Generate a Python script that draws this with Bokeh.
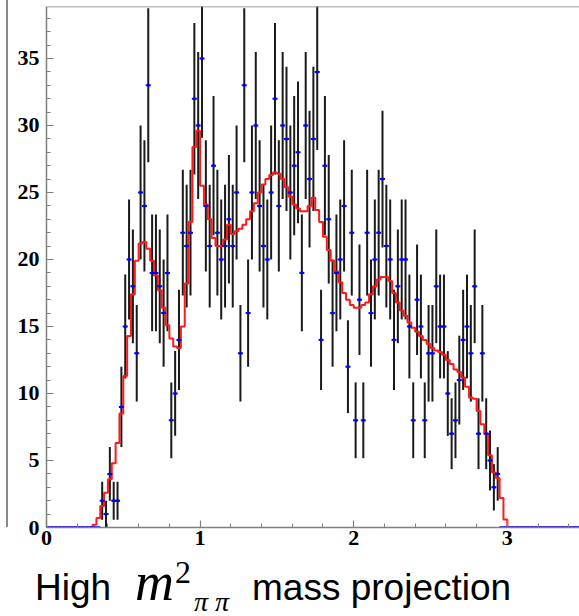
import math
from bokeh.plotting import figure
from bokeh.models import Range1d, SingleIntervalTicker, Span, Div
from bokeh.layouts import row, column
from bokeh.embed import file_html
from bokeh.resources import INLINE

# ---- data ----
bin_width = 0.025
x_first_edge = 0.0

# event counts per bin (bins of 0.025 starting at 0)
counts_low_empty = [0, 0, 0, 0, 0, 0, 0, 0, 0, 0, 0, 0, 0, 0]
counts_main = [2, 1, 4, 2, 2, 9, 15, 20, 18, 13, 25, 24, 33, 19, 19, 18, 16, 19, 8, 10,
               14, 22, 21, 22, 32, 30,
               35, 24, 21, 27, 22, 20, 21, 23, 21, 25, 13, 33, 16, 25, 30, 24, 21, 20, 25, 32,
               24, 30, 29, 25, 27, 28, 19, 30, 26, 29, 34, 14, 27, 23, 16, 19, 20, 24, 12, 22,
               8, 17, 8, 22, 16, 20, 22, 26, 21, 20, 14, 18, 20, 20, 15, 8, 17, 15, 8, 13,
               13, 18, 15, 15, 10, 7, 8, 11, 14, 15, 13, 18, 7, 13, 7, 5, 3, 4]
counts_high_empty = [0, 0, 0, 0, 0, 0, 0, 0, 0, 0, 0, 0, 0, 0, 0, 0, 0, 0, 0, 0, 0]

# fit projection (red histogram), same binning
fit_low_empty = [0, 0, 0, 0, 0, 0, 0, 0, 0, 0, 0, 0]
fit_main = [0.2, 0.7, 1.6, 2.6, 3.6, 4.8, 6.3, 8.5, 11.3, 14.3, 17.4, 19.9, 21.2, 21.3,
            20.8, 19.9, 18.8, 17.7, 16.4, 15.1, 14.1, 13.5, 13.4, 15.0, 18.2, 22.8, 28.4, 29.6,
            25.5, 24.1, 23.0, 21.6, 21.0, 21.0, 21.5, 22.6, 21.9, 22.1, 22.3, 22.6, 23.0, 23.6,
            24.2, 25.0, 25.6, 26.0, 26.3, 26.5, 26.4, 26.0, 25.4, 24.7, 24.1, 23.8, 23.6, 23.6,
            24.0, 24.6, 23.7, 22.8, 21.7, 20.7, 19.9, 19.1, 18.3, 17.5, 17.0, 16.6,
            16.4, 16.4, 16.6, 16.8, 17.4, 18.0, 18.5, 18.7, 18.7, 18.4, 17.5, 16.8, 16.2, 15.8,
            15.3, 14.9, 14.6, 14.3, 14.0, 13.7, 13.4, 13.2, 13.1, 12.9, 12.5, 12.2, 11.8, 11.6,
            11.2, 10.5, 9.7, 9.6, 8.7, 7.7, 7.0, 5.4, 4.1, 3.7, 2.2, 0.6]
fit_high_empty = [0, 0, 0, 0, 0, 0, 0, 0, 0, 0, 0, 0, 0, 0, 0, 0, 0, 0, 0]

x_ticks_interval = 1
y_ticks_interval = 5
x_axis_range = (0, 3.47)
y_axis_range = (0, 38.88)

caption_parts = ["High", "m", "2", "π π", "mass projection"]

counts = counts_low_empty + counts_main + counts_high_empty
fit = fit_low_empty + fit_main + fit_high_empty

centers = [x_first_edge + (i + 0.5) * bin_width for i in range(len(counts))]
edges = [x_first_edge + i * bin_width for i in range(len(fit) + 1)]

err_x, err_lo, err_hi = [], [], []
for xc, c in zip(centers, counts):
    if c > 0:
        err_x.append(xc)
        err_lo.append(c - math.sqrt(c))
        err_hi.append(c + math.sqrt(c))

# ---- figure ----
p = figure(width=571, height=557,
           x_range=Range1d(*x_axis_range), y_range=Range1d(*y_axis_range),
           output_backend="svg", toolbar_location=None,
           min_border_left=38, min_border_right=0, min_border_top=6, min_border_bottom=30)
p.outline_line_color = None
p.grid.visible = False
p.background_fill_color = "white"
p.border_fill_color = "white"

p.xaxis.ticker = SingleIntervalTicker(interval=x_ticks_interval, num_minor_ticks=5)
p.yaxis.ticker = SingleIntervalTicker(interval=y_ticks_interval, num_minor_ticks=5)
for ax in (p.xaxis[0], p.yaxis[0]):
    ax.major_tick_in = 7
    ax.major_tick_out = 0
    ax.minor_tick_in = 4
    ax.minor_tick_out = 0
    ax.axis_line_color = "#7f7f7f"
    ax.axis_line_width = 1.5
    ax.major_tick_line_color = "#7f7f7f"
    ax.minor_tick_line_color = "#7f7f7f"
    ax.major_tick_line_width = 1.2
    ax.minor_tick_line_width = 1.0
    ax.major_label_text_font = "Liberation Serif"
    ax.major_label_text_font_style = "bold"
    ax.major_label_text_font_size = "22px"
    ax.major_label_text_color = "black"
p.yaxis.major_label_standoff = 7
p.xaxis.major_label_standoff = 3

# top frame line
p.add_layout(Span(location=y_axis_range[1], dimension="width",
                  line_color="#7f7f7f", line_width=1.5))

# error bars
p.segment(x0=err_x, y0=err_lo, x1=err_x, y1=err_hi, line_color="#1a1a1a", line_width=2)

# fit histogram
p.step(x=edges, y=fit + [fit[-1]], mode="after", line_color="#ff1a1a", line_width=2)

# data points
p.scatter(x=centers, y=counts, marker="dash", size=5, line_color="#0000ff", line_width=2)
p.scatter(x=centers, y=counts, marker="square", size=2.5, fill_color="#0000ff", line_color=None)

# frame edge of the neighbouring panel on the left
left_edge = Div(text="", width=8, height=527, margin=0,
                styles={"border-right": "2px solid #8a8a8a", "box-sizing": "border-box"})

# caption below the plot, as real SVG text
sans = "font-family:'Liberation Sans',Arial,sans-serif;"
serif = "font-family:'Liberation Serif','Times New Roman',serif;"
cap_h = 57
caption_svg = (
    f'<svg width="579" height="{cap_h}" style="display:block;overflow:visible">'
    f'<text x="35" y="43" style="{sans}font-size:37px;fill:black">{caption_parts[0]}</text>'
    f'<text x="135" y="43" style="{serif}font-style:italic;font-size:54px;fill:black">{caption_parts[1]}</text>'
    f'<text x="175" y="26" style="{serif}font-size:32px;fill:black">{caption_parts[2]}</text>'
    f'<text x="194" y="54" style="{serif}font-style:italic;font-size:28px;fill:black">{caption_parts[3]}</text>'
    f'<text x="252" y="43" style="{sans}font-size:37px;fill:black">{caption_parts[4]}</text>'
    '</svg>'
)
caption = Div(text=caption_svg, width=579, height=cap_h, margin=0)

layout = column(row(left_edge, p), caption)
open("out.html", "w").write(file_html(layout, INLINE))
